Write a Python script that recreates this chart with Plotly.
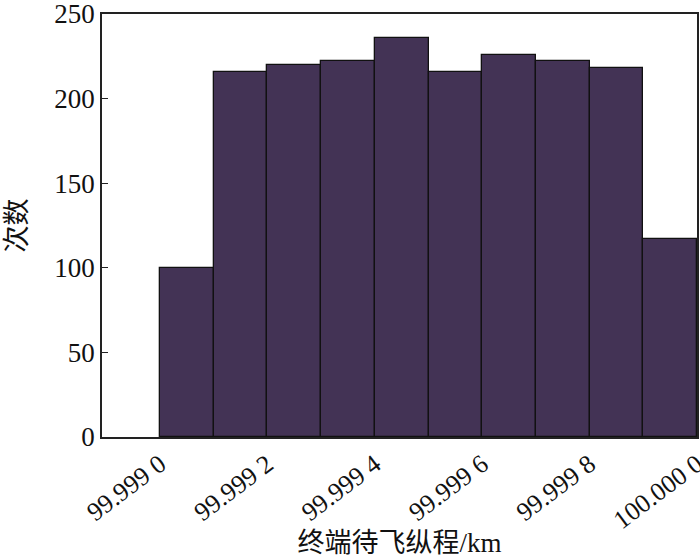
import plotly.graph_objects as go

bin_left = [99.9990, 99.9991, 99.9992, 99.9993, 99.9994,
            99.9995, 99.9996, 99.9997, 99.9998, 99.9999]
bin_width = 0.0001
counts = [100, 216, 220, 222, 236, 216, 226, 222, 218, 117]

tick_vals = [99.9990, 99.9992, 99.9994, 99.9996, 99.9998, 100.0000]
tick_text = ["99.999 0", "99.999 2", "99.999 4", "99.999 6", "99.999 8", "100.000 0"]
y_ticks = [0, 50, 100, 150, 200, 250]

x_min = 99.998892
x_max = 100.0000
y_max = 250

serif = "Liberation Serif, Times New Roman, serif"
cjk = "Liberation Serif, Noto Sans CJK SC, serif"

fig = go.Figure()
fig.add_trace(go.Bar(
    x=bin_left, y=counts, width=[bin_width] * len(bin_left), offset=0,
    marker=dict(color="#433355", line=dict(color="#111111", width=1.3)),
    showlegend=False,
))

fig.update_layout(
    width=700, height=558,
    margin=dict(l=102, r=3, t=14, b=121),
    plot_bgcolor="white", paper_bgcolor="white",
    bargap=0,
    xaxis=dict(
        range=[x_min, x_max + 1e-9], tickvals=tick_vals, ticktext=tick_text,
        tickangle=-37, tickfont=dict(family=serif, size=26, color="#111111"),
        showgrid=False, zeroline=False, showline=True, linecolor="#222222",
        linewidth=1.5, mirror=True, ticks="", automargin=False,
        ticklabeloverflow="allow",
        title=dict(text="终端待飞纵程/km", font=dict(family=cjk, size=27, color="#111111"),
                   standoff=6),
    ),
    yaxis=dict(
        range=[0, y_max + 1e-6], tickvals=y_ticks,
        tickfont=dict(family=serif, size=27, color="#111111"),
        showgrid=False, zeroline=False, showline=True, linecolor="#222222",
        linewidth=1.5, mirror=True, ticks="inside", ticklen=6, tickcolor="#222222",
        automargin=False, ticklabeloverflow="allow",
        title=dict(text="次数", font=dict(family=cjk, size=27, color="#111111"),
                   standoff=20),
    ),
)

fig.write_html("out.html", config={"displayModeBar": False},
               post_script="document.body.style.margin='0';")
